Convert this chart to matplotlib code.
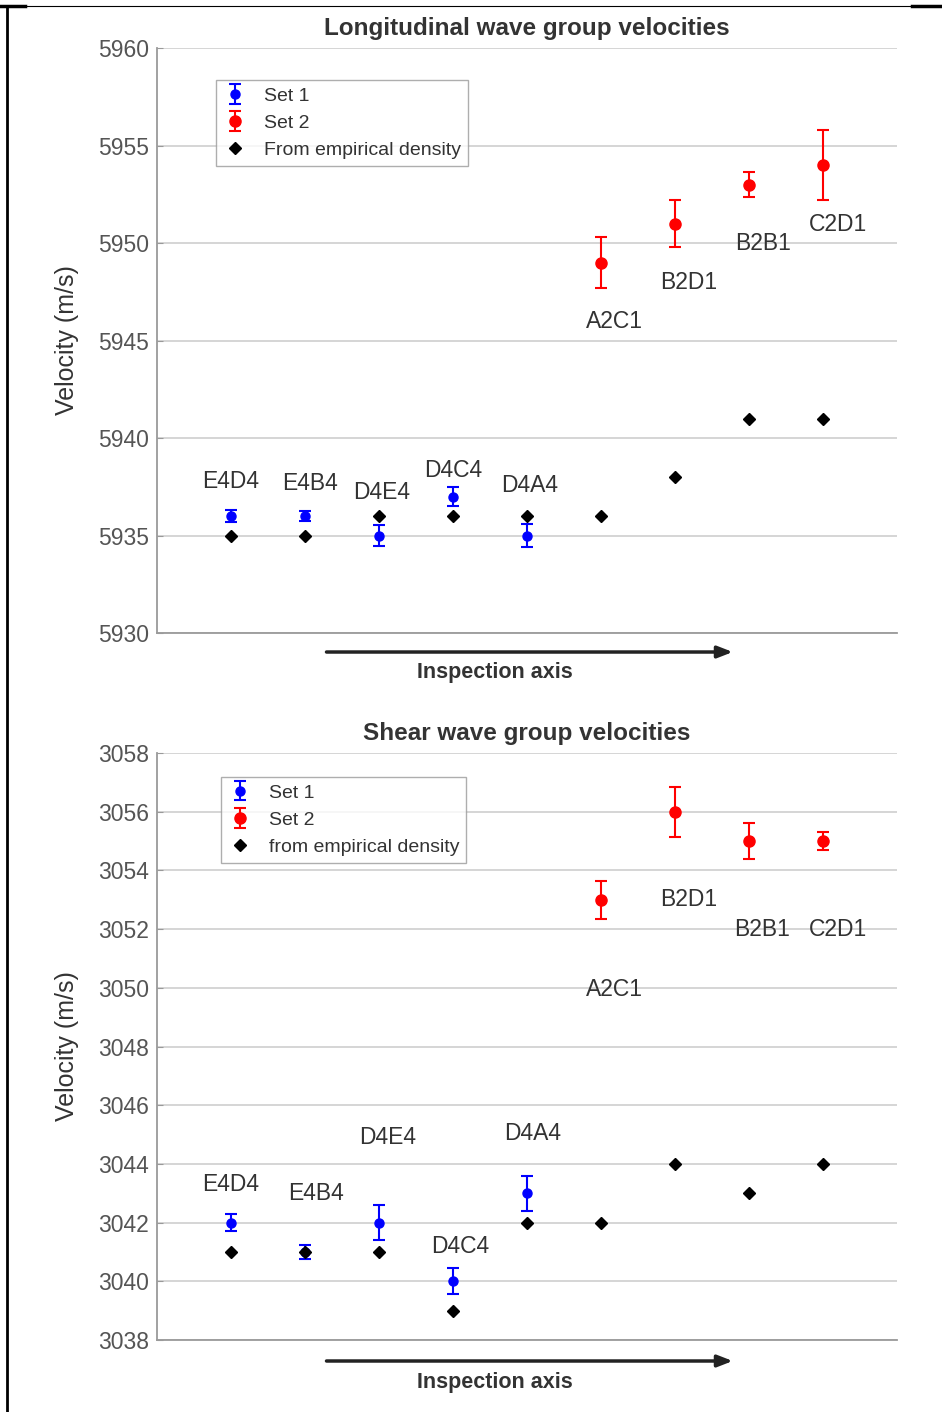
import matplotlib.pyplot as plt
import numpy as np
from matplotlib.lines import Line2D

plt.rcParams['font.family'] = ['Liberation Sans', 'DejaVu Sans']

labels = ['E4D4', 'E4B4', 'D4E4', 'D4C4', 'D4A4', 'A2C1', 'B2D1', 'B2B1', 'C2D1']
pos = np.arange(1, 10)

# Longitudinal wave group velocities (m/s)
long_set1 = [5936, 5936, 5935, 5937, 5935]
long_set1_err = [0.3, 0.25, 0.55, 0.5, 0.6]
long_set2 = [5949, 5951, 5953, 5954]
long_set2_err = [1.3, 1.2, 0.65, 1.8]
long_emp = [5935, 5935, 5936, 5936, 5936, 5936, 5938, 5941, 5941]

# Shear wave group velocities (m/s)
shear_set1 = [3042, 3041, 3042, 3040, 3043]
shear_set1_err = [0.3, 0.25, 0.6, 0.45, 0.6]
shear_set2 = [3053, 3056, 3055, 3055]
shear_set2_err = [0.65, 0.85, 0.6, 0.3]
shear_emp = [3041, 3041, 3041, 3039, 3042, 3042, 3044, 3043, 3044]

# where the point labels sit (data coords)
long_lbl_x = [1.0, 2.07, 3.03, 4.0, 5.04, 6.18, 7.18, 8.19, 9.2]
long_lbl_y = [5937.75, 5937.65, 5937.2, 5938.35, 5937.55, 5946.0, 5947.95, 5950.0, 5950.95]
shear_lbl_x = [1.0, 2.15, 3.12, 4.1, 5.08, 6.18, 7.18, 8.18, 9.2]
shear_lbl_y = [3043.3, 3043.0, 3044.9, 3041.2, 3045.05, 3049.95, 3053.0, 3051.97, 3051.97]

W, H = 942, 1412
fig = plt.figure(figsize=(W / 100, H / 100), dpi=100)

txt = '#333333'
grey = '#9a9a9a'


def panel(rect, title, s1, e1, s2, e2, emp, ylim, yticks, lx, ly, emp_label, leg_anchor):
    ax = fig.add_axes(rect)
    h1 = ax.errorbar(pos[:5], s1, yerr=e1, fmt='o', color='blue', ms=6.5, capsize=4,
                     elinewidth=1.5, capthick=1.5, label='Set 1', zorder=3)
    h2 = ax.errorbar(pos[5:], s2, yerr=e2, fmt='o', color='red', ms=8, capsize=4,
                     elinewidth=1.5, capthick=1.5, label='Set 2', zorder=3)
    h3, = ax.plot(pos, emp, 'D', color='black', ms=6.5, ls='none', label=emp_label, zorder=4)
    for lab, x, y in zip(labels, lx, ly):
        ax.text(x, y, lab, ha='center', va='center', fontsize=16.5, color=txt)
    ax.set_xlim(0, 10)
    ax.set_ylim(*ylim)
    ax.set_yticks(yticks)
    ax.set_xticks([])
    ax.grid(axis='y', color='#d2d2d2', lw=1.3)
    ax.set_axisbelow(True)
    for s in ['top', 'right']:
        ax.spines[s].set_visible(False)
    for s in ['left', 'bottom']:
        ax.spines[s].set_color(grey)
        ax.spines[s].set_linewidth(1.3)
    ax.tick_params(axis='y', direction='in', length=4, color=grey, labelsize=16.5,
                   labelcolor='#555555', pad=6)
    ax.set_ylabel('Velocity (m/s)', fontsize=18, color=txt)
    ax.yaxis.set_label_coords(-0.106, 0.5)
    ax.text(0.5, 1.034, title, transform=ax.transAxes, ha='center', va='center',
            fontsize=17.5, fontweight='bold', color=txt)
    leg = ax.legend([h1, h2, h3], ['Set 1', 'Set 2', emp_label],
                    loc='upper left', bbox_to_anchor=leg_anchor, borderaxespad=0,
                    fancybox=False, edgecolor=grey, fontsize=14, handlelength=1.2,
                    labelspacing=0.5, borderpad=0.35, handletextpad=0.9)
    for t in leg.get_texts():
        t.set_color(txt)
    return ax


ax1 = panel([0.1667, 0.5517, 0.7856, 0.4143], 'Longitudinal wave group velocities',
            long_set1, long_set1_err, long_set2, long_set2_err, long_emp,
            (5930, 5960), np.arange(5930, 5961, 5), long_lbl_x, long_lbl_y,
            'From empirical density', (0.08, 0.945))
ax2 = panel([0.1667, 0.0510, 0.7856, 0.4157], 'Shear wave group velocities',
            shear_set1, shear_set1_err, shear_set2, shear_set2_err, shear_emp,
            (3038, 3058), np.arange(3038, 3059, 2), shear_lbl_x, shear_lbl_y,
            'from empirical density', (0.0865, 0.959))

for ax, ya, yt in [(ax1, -0.0325, -0.0667), (ax2, -0.0358, -0.073)]:
    ax.annotate('', xy=(0.778, ya), xytext=(0.229, ya), xycoords='axes fraction',
                arrowprops=dict(arrowstyle='-|>,head_length=0.9,head_width=0.35',
                                color='#222222', lw=2.5, shrinkA=0, shrinkB=0),
                annotation_clip=False)
    ax.text(0.457, yt, 'Inspection axis', transform=ax.transAxes, ha='center',
            va='center', fontsize=15.5, fontweight='bold', color=txt)

# frame remnants of the cropped page
fig.add_artist(Line2D([7 / W, 7 / W], [0, 1 - 6 / H], color='black', lw=2))
fig.add_artist(Line2D([0, 1], [1 - 6 / H, 1 - 6 / H], color='black', lw=0.8))
fig.add_artist(Line2D([0, 25 / W], [1 - 6 / H, 1 - 6 / H], color='black', lw=2.5))
fig.add_artist(Line2D([912 / W, 1], [1 - 6 / H, 1 - 6 / H], color='black', lw=2.5))

fig.savefig('out.png', dpi=100)
